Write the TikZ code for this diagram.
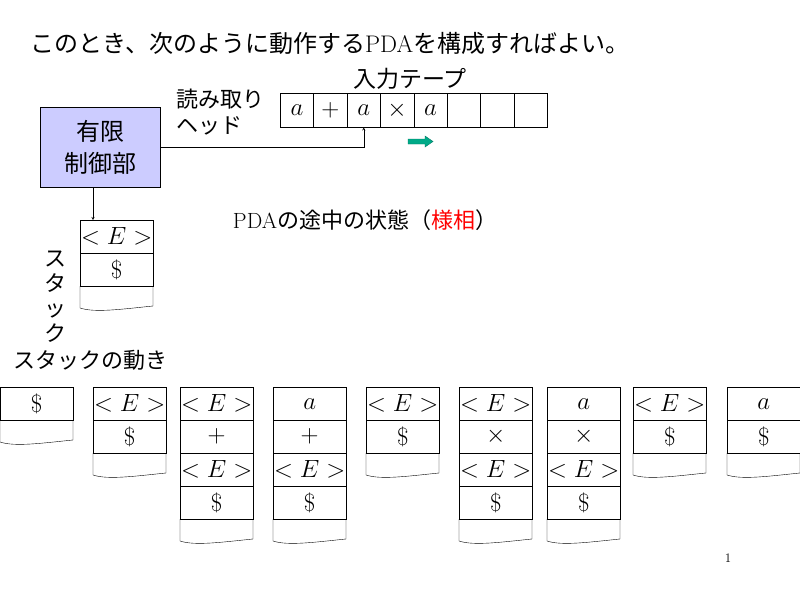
\documentclass[tikz,border=0pt]{standalone}
\usepackage{fontspec}
\newfontfamily\jp{Noto Sans CJK JP}
\begin{document}
\begin{tikzpicture}[x=1pt,y=-1pt,
  cell/.style={draw,minimum width=73pt,minimum height=33pt,inner sep=0pt,font=\fontsize{24}{24}\selectfont},
  tcell/.style={draw,minimum width=33.4pt,minimum height=34pt,inner sep=0pt,font=\fontsize{24}{24}\selectfont},
  jt/.style={font=\jp\fontsize{22}{26}\selectfont,inner sep=0pt}]
\useasboundingbox (0,0) rectangle (800,600);
\newcommand\stackcol[4]{% name, left x, top y, labels
  \foreach \t [count=\i] in {#4}{
    \node[cell,anchor=north west] (#1c\i) at (#2,{#3+(\i-1)*33}) {$\t$};
    \xdef\lastn{\i}}
  \coordinate (#1b) at (#2,{#3+\lastn*33});
  \draw (#1b) -- ++(0,22) .. controls +(15,5) and +(-30,3) .. ++(73,-2) -- ++(0,-20);
}
\node[jt,font=\jp\fontsize{24}{26}\selectfont] (title) at (330,43) {このとき、次のように動作する\rmfamily PDA\jp を構成すればよい。};
\node[draw,fill={rgb,255:red,204;green,204;blue,255},minimum width=120pt,minimum height=80pt,anchor=north west,align=center,jt,font=\jp\fontsize{24}{32}\selectfont] (ctl) at (40,107) {有限\\制御部};
\foreach \t [count=\i] in {a,+,a,\times,a,,,}{
  \node[tcell,anchor=north west] (t\i) at ({280+(\i-1)*33.4},93) {$\t$};}
\draw[-stealth] (ctl.east |- 0,147) -| (t3.south);
\node[jt,font=\jp\fontsize{23}{26}\selectfont] (tapelbl) at (410,79) {入力テープ};
\node[jt,align=left,anchor=west] (head) at (176,112) {読み取り\\ヘッド};
\draw[fill={rgb,255:red,0;green,170;blue,136},draw={rgb,255:red,0;green,120;blue,100}] (408,139) -- (425,139) -- (425,136) -- (433,141.5) -- (425,147) -- (425,144) -- (408,144) -- cycle;
\node[jt] (state) at (365,220) {\rmfamily PDA\jp の途中の状態（\textcolor{red}{様相}）};
\stackcol{s}{80}{220}{<E>,\$}
\draw[-stealth] (ctl.south -| 93,0) -- (sc1.north -| 93,0);
\node[jt,align=center,font=\jp\fontsize{22}{25}\selectfont] (stklbl) at (55,297) {ス\\タ\\ッ\\ク};
\node[jt] (mv) at (90,360) {スタックの動き};
\stackcol{a}{0}{387}{\$}
\stackcol{b}{93}{387}{<E>,\$}
\stackcol{c}{180}{387}{<E>,+,<E>,\$}
\stackcol{d}{273}{387}{a,+,<E>,\$}
\stackcol{e}{366}{387}{<E>,\$}
\stackcol{f}{459}{387}{<E>,\times,<E>,\$}
\stackcol{g}{547}{387}{a,\times,<E>,\$}
\stackcol{h}{633}{387}{<E>,\$}
\stackcol{i}{727}{387}{a,\$}
\node[font=\fontsize{13}{13}\selectfont] (pg) at (728,558) {1};
\end{tikzpicture}
\end{document}
